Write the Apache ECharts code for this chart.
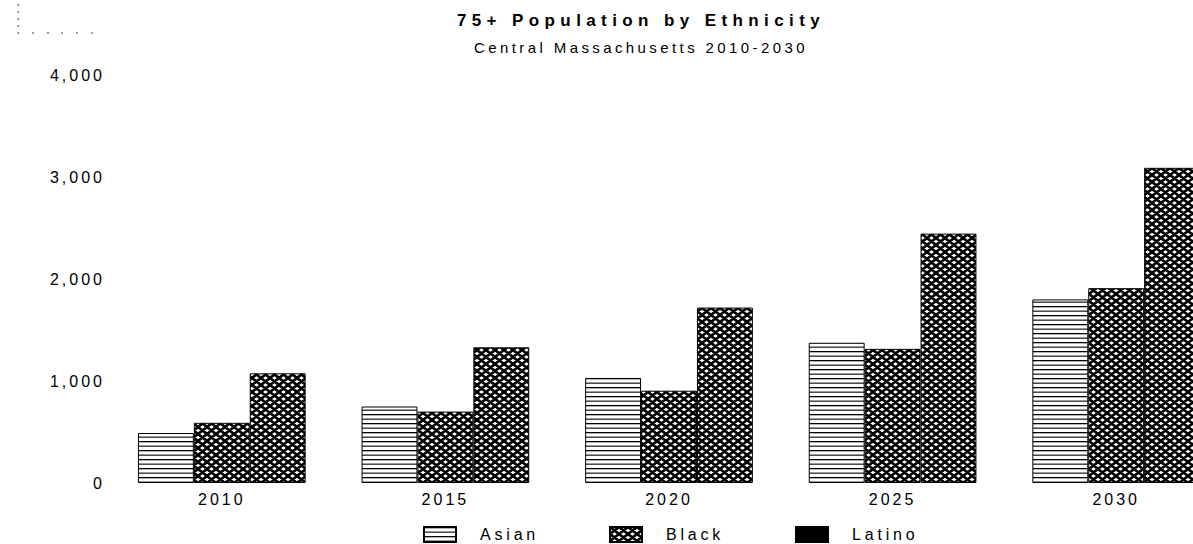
<!DOCTYPE html>
<html><head><meta charset="utf-8">
<script src="https://cdn.jsdelivr.net/npm/echarts@6/dist/echarts.min.js"></script>
<style>
html,body{margin:0;padding:0;background:#fff}
#c{width:1193px;height:544px;letter-spacing:3px}
</style>
</head><body><div id="c"></div>
<script>
// ---- data ----
const categories = ['2010', '2015', '2020', '2025', '2030'];
const asian  = [490, 750, 1030, 1375, 1800];
const black  = [590, 700, 905, 1315, 1910];
const latino = [1075, 1330, 1720, 2445, 3090];
const yTicks = [0, 1000, 2000, 3000, 4000];
const seriesNames = ['Asian', 'Black', 'Latino'];
const titleText = '75+ Population by Ethnicity';
const subtitleText = 'Central Massachusetts 2010-2030';

// ---- patterns ----
function hLines() {
  const c = document.createElement('canvas'); c.width = 8; c.height = 9;
  const g = c.getContext('2d');
  g.fillStyle = '#fff'; g.fillRect(0, 0, 8, 9);
  g.fillStyle = '#000'; g.fillRect(0, 0, 8, 1.3); g.fillRect(0, 4.6, 8, 1.1);
  return c.toDataURL();
}
function crossHatch() {
  const w = 9, h = 7;
  const c = document.createElement('canvas'); c.width = w; c.height = h;
  const g = c.getContext('2d');
  g.fillStyle = '#fff'; g.fillRect(0, 0, w, h);
  g.strokeStyle = '#000'; g.lineWidth = 2.6;
  g.beginPath();
  for (let k = -1; k <= 1; k++) {
    g.moveTo(k * w - w, -h); g.lineTo(k * w + 2 * w, 2 * h);
    g.moveTo(k * w + 2 * w, -h); g.lineTo(k * w - w, 2 * h);
  }
  g.stroke();
  return c.toDataURL();
}
const hPat = { image: hLines(), repeat: 'repeat' };
const xPat = { image: crossHatch(), repeat: 'repeat' };

const FONT = "'Liberation Sans', Arial, sans-serif";

function legendAt(name, left) {
  const item = { name: name };
  if (name === 'Latino') item.itemStyle = { color: '#000', borderColor: '#000' };
  return {
    data: [item], left: left, top: 526, padding: 0, itemWidth: 32, itemHeight: 15,
    icon: 'rect', selectedMode: false,
    textStyle: { fontFamily: FONT, fontSize: 16, color: '#000', padding: [0, 0, 0, 19] }
  };
}

const dots = [];
[5, 12, 19, 26, 33].forEach(y => dots.push({ type: 'rect', shape: { x: 17.5, y: y - 0.75, width: 1.5, height: 1.5 }, style: { fill: '#555' } }));
[33, 48, 62, 77, 92].forEach(x => dots.push({ type: 'rect', shape: { x: x - 0.75, y: 32.25, width: 1.5, height: 1.5 }, style: { fill: '#555' } }));

const chart = echarts.init(document.getElementById('c'), null, { renderer: 'svg' });
chart.setOption({
  animation: false,
  backgroundColor: '#fff',
  title: {
    text: titleText, subtext: subtitleText,
    left: 636, top: 7, textAlign: 'center', itemGap: 11,
    textStyle: { fontFamily: FONT, fontSize: 17, fontWeight: 'bold', color: '#000' },
    subtextStyle: { fontFamily: FONT, fontSize: 15, color: '#000' }
  },
  legend: [legendAt(seriesNames[0], 423), legendAt(seriesNames[1], 609), legendAt(seriesNames[2], 795)],
  grid: { left: 110, width: 1118, top: 75, bottom: 61, containLabel: false, outerBoundsMode: 'none' },
  xAxis: {
    type: 'category', data: categories,
    axisLine: { show: false }, axisTick: { show: false },
    axisLabel: { fontFamily: FONT, fontSize: 16, color: '#000', margin: 8 }
  },
  yAxis: {
    type: 'value', min: yTicks[0], max: yTicks[yTicks.length - 1], interval: yTicks[1] - yTicks[0],
    axisLine: { show: false }, axisTick: { show: false }, splitLine: { show: false },
    axisLabel: { fontFamily: FONT, fontSize: 16, color: '#000', margin: 5,
      formatter: v => v.toLocaleString('en-US') }
  },
  series: [
    { name: seriesNames[0], type: 'bar', data: asian, barGap: '0%', barCategoryGap: '25%',
      itemStyle: { color: hPat, borderColor: '#000', borderWidth: 1 } },
    { name: seriesNames[1], type: 'bar', data: black, barGap: '0%', barCategoryGap: '25%',
      itemStyle: { color: xPat, borderColor: '#000', borderWidth: 1 } },
    { name: seriesNames[2], type: 'bar', data: latino, barGap: '0%', barCategoryGap: '25%',
      itemStyle: { color: xPat, borderColor: '#000', borderWidth: 1 } }
  ],
  graphic: dots
});

function applySpacing() {
  document.querySelectorAll('#c svg text').forEach(t => {
    const s = t.textContent;
    let ls = '3px';
    if (s === titleText) ls = '5.4px';
    else if (s === subtitleText) ls = '3.4px';
    else if (seriesNames.indexOf(s) >= 0) ls = '3.8px';
    t.style.letterSpacing = ls;
  });
}
applySpacing();
chart.on('finished', applySpacing);
chart.on('rendered', applySpacing);
</script>
</body></html>
